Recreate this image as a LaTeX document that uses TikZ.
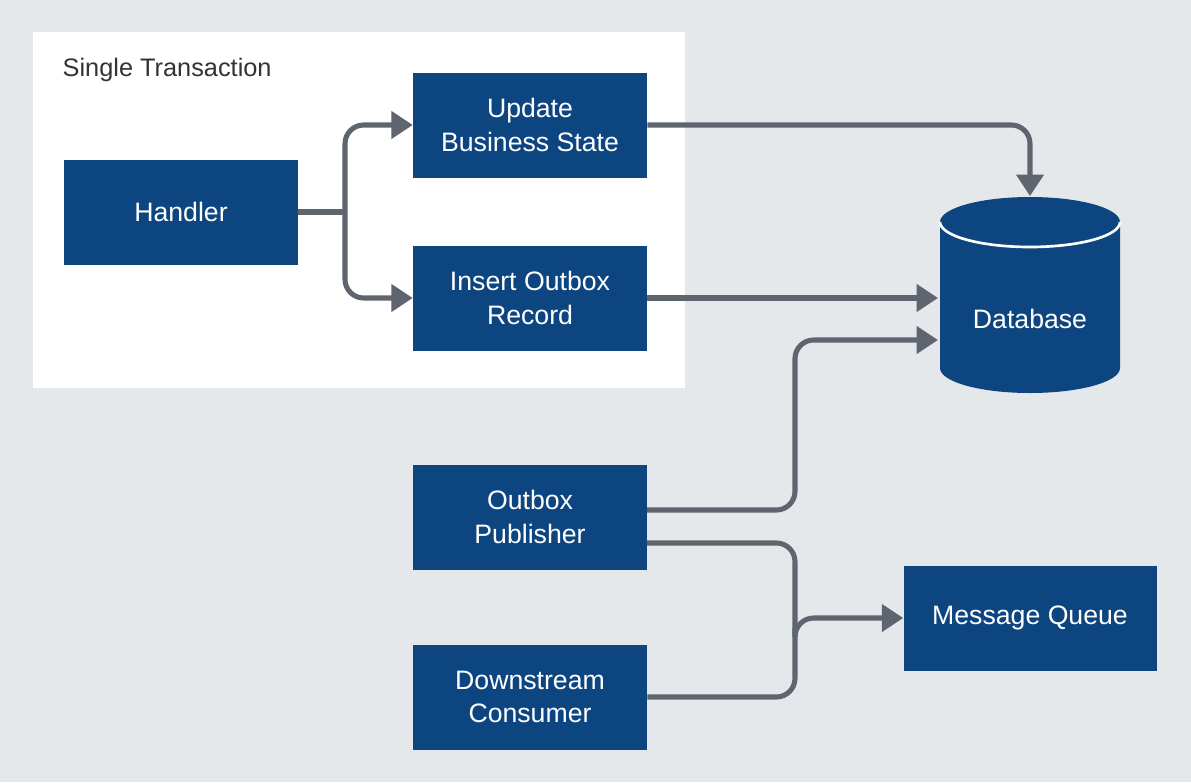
\documentclass[tikz,border=0pt]{standalone}
\usepackage{fontspec}
\setmainfont{Liberation Sans}
\usetikzlibrary{arrows.meta}
\definecolor{bg}{HTML}{E5E8EB}
\definecolor{boxblue}{HTML}{0D4580}
\definecolor{arr}{HTML}{5E656E}
\tikzset{
 blk/.style={fill=boxblue,text=white,minimum width=234*0.75pt,minimum height=105*0.75pt,align=center,font=\fontsize{20}{25}\selectfont,inner sep=0pt},
 conn/.style={draw=arr,line width=3.8pt,rounded corners=14pt,-{Triangle[length=16pt,width=20pt]}},
 link/.style={draw=arr,line width=3.8pt,rounded corners=14pt}
}
\begin{document}
\begin{tikzpicture}[x=0.75pt,y=-0.75pt]
\fill[bg] (0,0) rectangle (1191,782);
\useasboundingbox (0,0) rectangle (1191,782);
\fill[white] (33,32) rectangle (685,388);
\node[anchor=west,font=\fontsize{19}{23}\selectfont,text=black!80] (title) at (58,70) {Single Transaction};
\node[blk] (h) at (181,212) {Handler};
\node[blk] (u) at (530,125) {Update\\Business State};
\node[blk] (i) at (530,298) {Insert Outbox\\Record};
\node[blk] (p) at (530,517) {Outbox\\Publisher};
\node[blk] (d) at (530,697) {Downstream\\Consumer};
\node[blk,minimum width=253*0.75pt] (mq) at (1030,618) {Message Queue};
% database cylinder
\fill[boxblue] (940,222) -- (940,368) arc[start angle=180,end angle=0,x radius=90,y radius=25] -- (1120,222) arc[start angle=0,end angle=-180,x radius=90,y radius=25] -- cycle;
\draw[white,line width=2pt] (940,222) arc[start angle=180,end angle=0,x radius=90,y radius=25];
\node[text=white,font=\fontsize{20}{25}\selectfont] (db) at (1030,319) {Database};
\coordinate (dbtop) at (1030,196);
\coordinate (dbl1) at (938,298);
\coordinate (dbl2) at (938,340);
\coordinate (split) at (345,212);
\coordinate (join) at (795,618);
% connectors
\draw[link] (h.east) -- (split);
\draw[conn] (split) -- (345,125) -- (u.west);
\draw[conn] (split) -- (345,298) -- (i.west);
\draw[conn] (u.east) -- (1030,125) -- (dbtop);
\draw[conn] (i.east) -- (dbl1);
\draw[conn] (647,510) -- (795,510) -- (795,340) -- (dbl2);
\draw[link] (647,543) -- (795,543) -- (795,618);
\draw[link] (d.east) -- (795,697) -- (795,618);
\draw[conn] (795,628) -- (join) -- (mq.west);
\end{tikzpicture}
\end{document}
